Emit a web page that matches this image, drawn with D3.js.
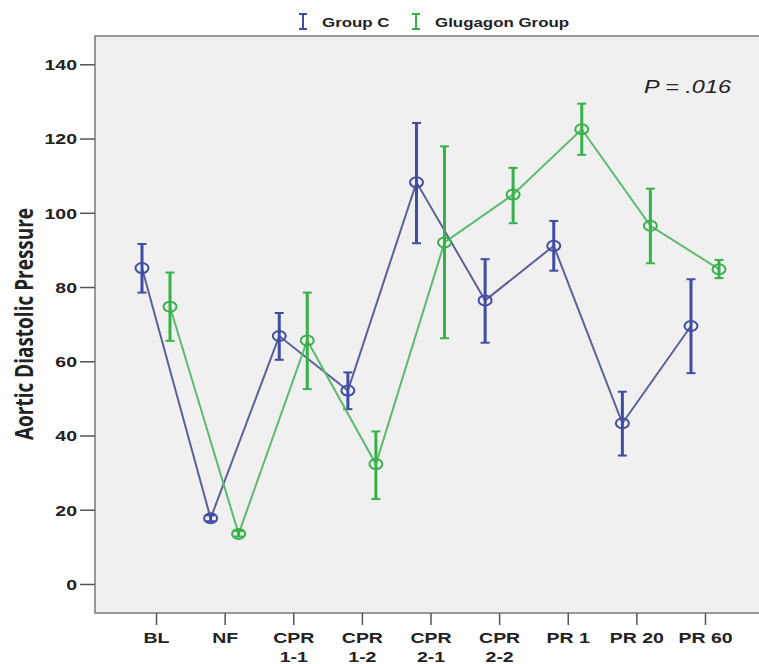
<!DOCTYPE html>
<html>
<head>
<meta charset="utf-8">
<script src="https://cdn.jsdelivr.net/npm/d3@7"></script>
<style>
  body { margin: 0; background: #fff; }
  svg { display: block; font-family: 'Liberation Sans', Arial, sans-serif; }
</style>
</head>
<body>
<div id="chart"></div>
<script>
// categories on the x axis
let categories = ['BL', 'NF', 'CPR 1-1', 'CPR 1-2', 'CPR 2-1', 'CPR 2-2', 'PR 1', 'PR 20', 'PR 60']
let tickLines = [['BL'], ['NF'], ['CPR', '1-1'], ['CPR', '1-2'], ['CPR', '2-1'], ['CPR', '2-2'], ['PR 1'], ['PR 20'], ['PR 60']]
let yTicks = [0, 20, 40, 60, 80, 100, 120, 140]

// Group C
let groupCMean = [85.1, 17.7, 66.8, 52.1, 108.2, 76.4, 91.1, 43.3, 69.5]
let groupCLow = [78.5, 16.9, 60.4, 47.1, 91.8, 65.0, 84.4, 34.6, 56.8]
let groupCHigh = [91.6, 18.5, 73.0, 57.0, 124.2, 87.5, 97.8, 51.8, 82.1]

// Glucagon group
let glucMean = [74.7, 13.5, 65.6, 32.3, 92.0, 104.9, 122.5, 96.5, 84.8]
let glucLow = [65.5, 12.8, 52.5, 22.9, 66.2, 97.2, 115.6, 86.4, 82.4]
let glucHigh = [83.9, 14.3, 78.5, 41.1, 117.9, 112.1, 129.4, 106.5, 87.3]

let groupNames = ['Group C', 'Glugagon Group']

let width = 759
let height = 664
let frame = { left: 95, top: 36, right: 775, bottom: 613 }
let stretch = 1.3 // the picture is widened, so text is too

let series = [
  { name: groupNames[0], mean: groupCMean, low: groupCLow, high: groupCHigh, line: '#5c6099', mark: '#3f4ea3' },
  { name: groupNames[1], mean: glucMean, low: glucLow, high: glucHigh, line: '#5dba6f', mark: '#37b24a' }
]

let svg = d3
  .select('#chart')
  .append('svg')
  .attr('width', width)
  .attr('height', height)

let x = d3.scalePoint().domain(categories).range([156, 705])
let offset = d3.scalePoint().domain(groupNames).range([-14, 14])
let y = d3.scaleLinear().domain([0, 140]).range([584, 64.3])

// plot area
svg
  .append('rect')
  .attr('x', frame.left)
  .attr('y', frame.top)
  .attr('width', frame.right - frame.left)
  .attr('height', frame.bottom - frame.top)
  .attr('fill', '#f0f0f0')
  .attr('stroke', '#7a7a7a')
  .attr('stroke-width', 1.5)

// y axis
let yAxis = svg
  .append('g')
  .attr('transform', 'translate(' + frame.left + ',0)')
  .call(d3.axisLeft(y).tickValues(yTicks).tickSize(15))

yAxis.select('.domain').remove()
yAxis.selectAll('line').attr('stroke', '#555').attr('stroke-width', 1.5)
yAxis
  .selectAll('text')
  .attr('x', -18 / stretch)
  .attr('dy', '0.36em')
  .attr('transform', 'scale(' + stretch + ',1)')
  .attr('fill', '#222')
  .style('font-size', '15px')
  .style('font-weight', 'bold')

// x axis
let xAxis = svg
  .append('g')
  .attr('transform', 'translate(0,' + frame.bottom + ')')
  .call(d3.axisBottom(x).tickSize(12))

xAxis.select('.domain').remove()
xAxis.selectAll('line').attr('stroke', '#555').attr('stroke-width', 1.5)
xAxis.selectAll('text').remove()
xAxis
  .selectAll('.tick')
  .append('text')
  .attr('transform', 'scale(' + stretch + ',1)')
  .attr('text-anchor', 'middle')
  .attr('fill', '#222')
  .style('font-size', '15px')
  .style('font-weight', 'bold')
  .selectAll('tspan')
  .data((d, i) => tickLines[i])
  .enter()
  .append('tspan')
  .attr('x', 0)
  .attr('y', (d, i) => 30 + i * 19)
  .text(d => d)

// y axis title
svg
  .append('text')
  .attr('transform', 'translate(33,324) scale(' + stretch + ',1) rotate(-90)')
  .attr('text-anchor', 'middle')
  .attr('fill', '#222')
  .style('font-family', "'Open Sans', sans-serif")
  .style('font-size', '19px')
  .style('font-weight', 'bold')
  .text('Aortic Diastolic Pressure')

let line = d3.line()

series.forEach(s => {
  let dx = offset(s.name)
  let pts = categories.map((c, i) => [x(c) + dx, y(s.mean[i])])

  svg
    .append('path')
    .attr('d', line(pts))
    .attr('fill', 'none')
    .attr('stroke', s.line)
    .attr('stroke-width', 2)

  let g = svg.append('g')

  categories.forEach((c, i) => {
    let cx = x(c) + dx
    g.append('line')
      .attr('x1', cx)
      .attr('x2', cx)
      .attr('y1', y(s.low[i]))
      .attr('y2', y(s.high[i]))
      .attr('stroke', s.mark)
      .attr('stroke-width', 3)
    ;[s.low[i], s.high[i]].forEach(v => {
      g.append('line')
        .attr('x1', cx - 4.5)
        .attr('x2', cx + 4.5)
        .attr('y1', y(v))
        .attr('y2', y(v))
        .attr('stroke', s.mark)
        .attr('stroke-width', 2)
    })
    g.append('ellipse')
      .attr('cx', cx)
      .attr('cy', y(s.mean[i]))
      .attr('rx', 6.5)
      .attr('ry', 5)
      .attr('fill', 'none')
      .attr('stroke', s.mark)
      .attr('stroke-width', 2)
  })
})

// P value
svg
  .append('text')
  .attr('transform', 'translate(644,92.5) scale(' + stretch + ',1)')
  .attr('fill', '#222')
  .style('font-size', '18px')
  .style('font-style', 'italic')
  .text('P = .016')

// legend
let legendX = [303, 416]
let legend = svg
  .selectAll('.legend')
  .data(series)
  .enter()
  .append('g')
  .attr('class', 'legend')
  .attr('transform', (d, i) => 'translate(' + legendX[i] + ',0)')

legend
  .append('path')
  .attr('d', 'M-4,14H4M0,14V29M-4,29H4')
  .attr('fill', 'none')
  .attr('stroke', d => d.mark)
  .attr('stroke-width', 2)

legend
  .append('text')
  .attr('transform', 'translate(19,26.5) scale(' + stretch + ',1)')
  .attr('fill', '#222')
  .style('font-size', '13px')
  .style('font-weight', 'bold')
  .text(d => d.name)
</script>
</body>
</html>
